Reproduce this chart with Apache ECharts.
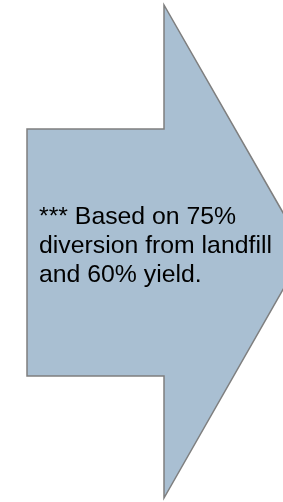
<!DOCTYPE html>
<html>
<head>
<meta charset="utf-8">
<script src="https://cdn.jsdelivr.net/npm/echarts@6/dist/echarts.min.js"></script>
<style>
  html, body { margin: 0; padding: 0; background: #fff; }
  #chart { width: 283px; height: 502px; }
</style>
</head>
<body>
<div id="chart"></div>
<script>
// arrow outline, in page units (x right, y down)
const arrowX = [27, 164, 164, 305, 164, 164, 27]
const arrowY = [129, 129, 5, 251, 498, 376, 376]
const noteLines = ['*** Based on 75%', 'diversion from landfill', 'and 60% yield.']

const points = arrowX.map((x, i) => [x, arrowY[i]])

const chart = echarts.init(document.getElementById('chart'))

chart.setOption({
  animation: false,
  title: {
    text: noteLines.join('\n'),
    left: 34,
    top: 198,
    textStyle: {
      color: '#000',
      fontWeight: 'normal',
      fontFamily: '"Liberation Sans", Arial, sans-serif',
      fontSize: 24.8,
      lineHeight: 29
    }
  },
  grid: { left: 0, right: 0, top: 0, bottom: 0 },
  xAxis: { type: 'value', min: 0, max: 283, show: false },
  yAxis: { type: 'value', min: 0, max: 502, inverse: true, show: false },
  series: [
    {
      type: 'custom',
      clip: false,
      z: 1,
      data: points,
      renderItem: function (params, api) {
        if (params.dataIndex !== 0) return null
        const pts = points.map(p => api.coord(p))
        return {
          type: 'polygon',
          shape: { points: pts },
          style: {
            fill: '#a9bfd2',
            stroke: '#7f7f7f',
            lineWidth: 1.5
          }
        }
      }
    }
  ]
})
</script>
</body>
</html>
